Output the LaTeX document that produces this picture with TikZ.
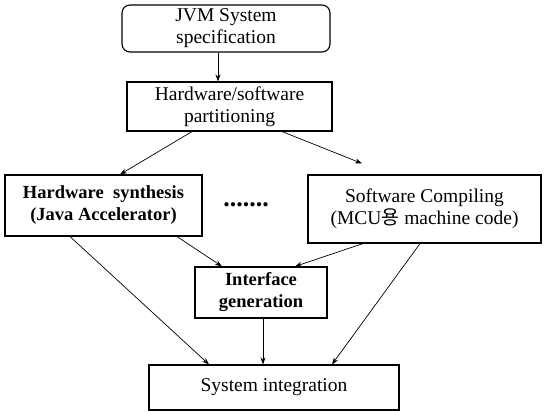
\documentclass[tikz,border=0pt]{standalone}
\usepackage{fontspec}
\setmainfont{Liberation Serif}
\newfontfamily\krfont{Noto Sans CJK KR}
\usetikzlibrary{arrows.meta}
\tikzset{box/.style={draw=black, line width=1.1pt, align=center, inner sep=0pt,
        font=\fontsize{19.5}{22}\selectfont},
    boldbox/.style={box, font=\fontsize{18.5}{22}\selectfont\bfseries},
    flow/.style={draw=black, line width=0.7pt, -{Stealth[length=7pt,width=5pt]}}}

\begin{document}
\begin{tikzpicture}[x=1pt, y=-1pt]
    \useasboundingbox (0,0) rectangle (546,412);
    % boxes
    \node[box, rounded corners=8pt, minimum width=208pt, minimum height=47pt]
        (spec) at (226,28.5) {JVM System\\specification};
    \node[box, minimum width=205pt, minimum height=49pt]
        (part) at (229.5,106.5) {Hardware/software\\partitioning};
    \node[boldbox, minimum width=197pt, minimum height=61pt]
        (hwsyn) at (103.5,205.5) {Hardware\ \ synthesis\\(Java Accelerator)};
    \node[font=\fontsize{26}{28}\selectfont\bfseries] (dots) at (246,205) {.......};
    \node[box, minimum width=233pt, minimum height=68pt]
        (swcomp) at (424.5,209) {Software Compiling\\(MCU{\krfont 용} machine code)};
    \node[boldbox, minimum width=132pt, minimum height=51pt]
        (intf) at (261,292.5) {Interface\\generation};
    \node[box, minimum width=250pt, minimum height=45pt]
        (sysint) at (274,387.5) {System integration};
    % connectors
    \draw[flow] ([xshift=-8pt]spec.south) -- ([xshift=-11.5pt]part.north);
    \draw[flow] ([xshift=-37.5pt]part.south) -- ([xshift=16.5pt]hwsyn.north);
    \draw[flow] ([xshift=52.5pt]part.south) -- ([xshift=-62.5pt,yshift=11pt]swcomp.north);
    \draw[flow] ([xshift=73.5pt]hwsyn.south) -- ([xshift=-39pt]intf.north);
    \draw[flow] ([xshift=-61.5pt]swcomp.south) -- ([xshift=34pt]intf.north);
    \draw[flow] ([xshift=-33.5pt]hwsyn.south) -- ([xshift=-65pt]sysint.north);
    \draw[flow] ([xshift=2pt]intf.south) -- ([xshift=2pt]intf.south |- sysint.north);
    \draw[flow] ([xshift=-4.5pt]swcomp.south) -- ([xshift=58pt]sysint.north);
\end{tikzpicture}
\end{document}
